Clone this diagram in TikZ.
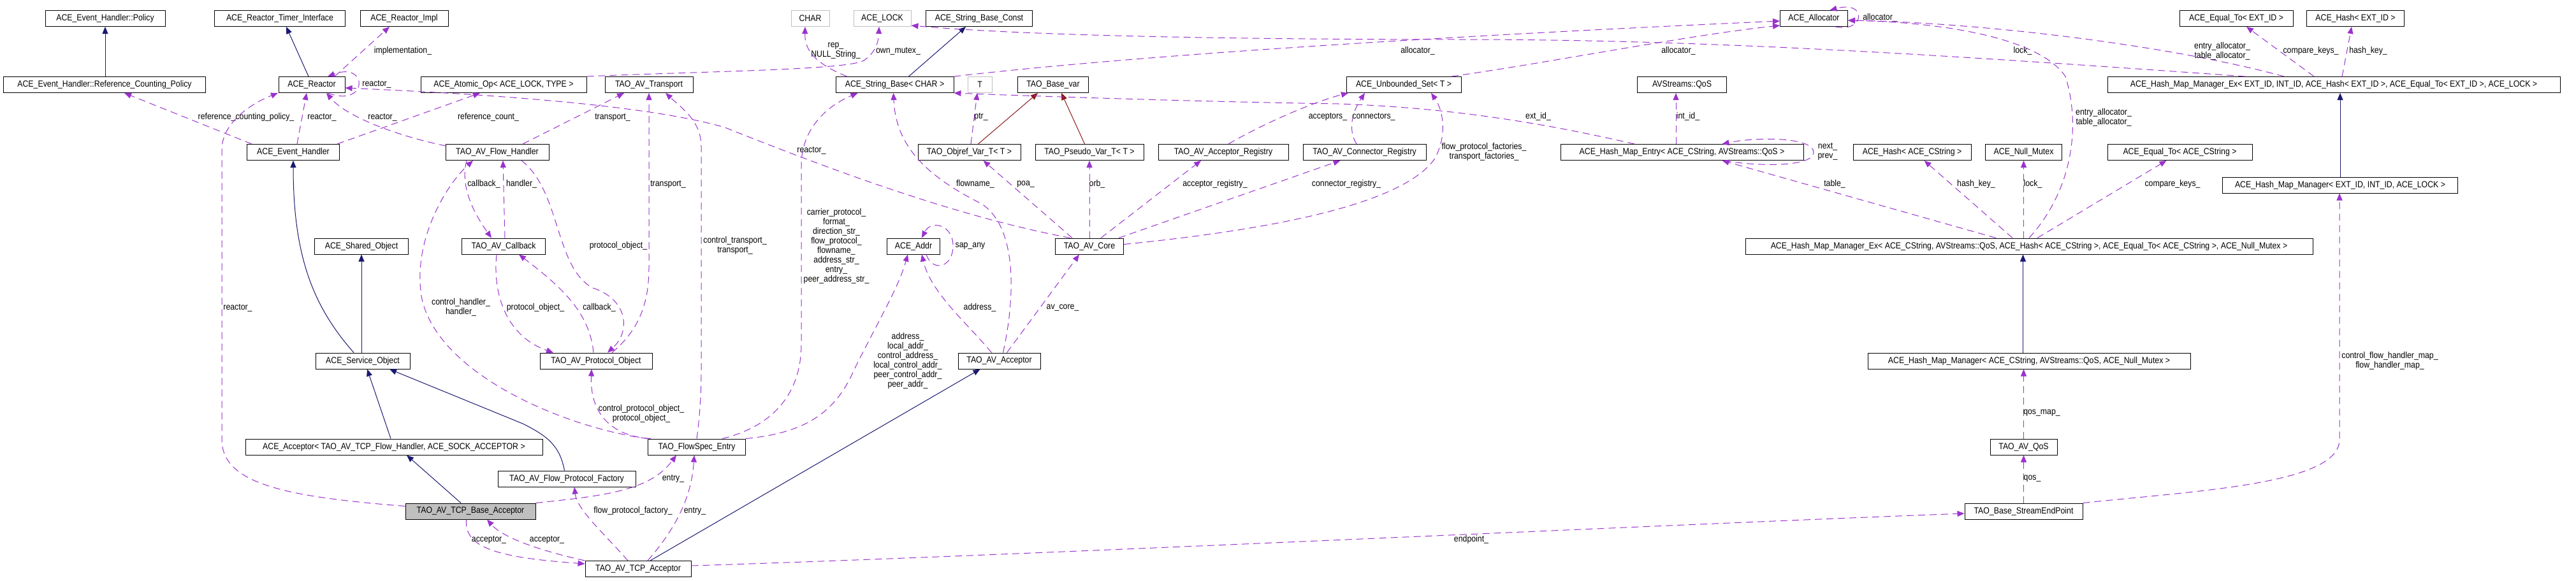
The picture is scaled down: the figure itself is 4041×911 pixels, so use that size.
\documentclass[tikz,border=0pt]{standalone}
\usepackage{fontspec}
\setmainfont{Liberation Sans}[FakeStretch=0.88]
\usepackage{tikz}
\usetikzlibrary{arrows.meta}
\definecolor{inhblue}{HTML}{191970}
\definecolor{usepurple}{HTML}{9A32CD}
\definecolor{tmplred}{HTML}{8B1A1A}
\definecolor{undocgray}{HTML}{BFBFBF}
\newcommand{\dxfont}{\fontsize{14}{15}\selectfont}
\tikzstyle{cls} = [draw=black, line width=1pt, rectangle, minimum height=25pt, inner sep=0pt, font=\dxfont]
\tikzstyle{undoc} = [cls, draw=undocgray]
\tikzstyle{cur} = [cls, fill=undocgray]
\tikzstyle{lbl} = [inner sep=0pt, align=center, font=\dxfont]
\tikzstyle{inherit} = [draw=inhblue, line width=1pt, -{Triangle[length=11pt,width=9pt]}]
\tikzstyle{tmpl} = [draw=tmplred, line width=1pt, -{Triangle[length=11pt,width=9pt]}]
\tikzstyle{member} = [draw=usepurple, line width=1pt, dash pattern=on 11pt off 7pt, -{Triangle[length=11pt,width=9pt]}]

\begin{document}
\begin{tikzpicture}[x=1pt, y=-1pt]
        \useasboundingbox (0,0) rectangle (4041,911);
        \fill[white] (0,0) rectangle (4041,911);

        \node[cls, minimum width=188pt] (policy) at (165,29) {ACE\_Event\_Handler::Policy};
        \node[cls, minimum width=205pt] (timerif) at (439,29) {ACE\_Reactor\_Timer\_Interface};
        \node[cls, minimum width=138pt] (reactorimpl) at (634,29) {ACE\_Reactor\_Impl};
        \node[undoc, minimum width=60pt] (char) at (1271,29) {CHAR};
        \node[undoc, minimum width=90pt] (acelock) at (1384,29) {ACE\_LOCK};
        \node[cls, minimum width=167pt] (strconst) at (1536,29) {ACE\_String\_Base\_Const};
        \node[cls, minimum width=106pt] (allocator) at (2845.5,29) {ACE\_Allocator};
        \node[cls, minimum width=178pt] (eqext) at (3508,29) {ACE\_Equal\_To< EXT\_ID >};
        \node[cls, minimum width=153pt] (hashext) at (3695,29) {ACE\_Hash< EXT\_ID >};

        \node[cls, minimum width=317pt] (refpolicy) at (164,133) {ACE\_Event\_Handler::Reference\_Counting\_Policy};
        \node[cls, minimum width=104pt] (reactor) at (489,133) {ACE\_Reactor};
        \node[cls, minimum width=260pt] (atomicop) at (790,133) {ACE\_Atomic\_Op< ACE\_LOCK, TYPE >};
        \node[cls, minimum width=138pt] (transport) at (1018,133) {TAO\_AV\_Transport};
        \node[cls, minimum width=185pt] (strbase) at (1403.5,133) {ACE\_String\_Base< CHAR >};
        \node[undoc, minimum width=38pt] (tparam) at (1537,133) {T};
        \node[cls, minimum width=111pt] (basevar) at (1652,133) {TAO\_Base\_var};
        \node[cls, minimum width=180pt] (uset) at (2202,133) {ACE\_Unbounded\_Set< T >};
        \node[cls, minimum width=140pt] (qosid) at (2638.5,133) {AVStreams::QoS};
        \node[cls, minimum width=710pt] (hmmexext) at (3661,133) {ACE\_Hash\_Map\_Manager\_Ex< EXT\_ID, INT\_ID, ACE\_Hash< EXT\_ID >, ACE\_Equal\_To< EXT\_ID >, ACE\_LOCK >};

        \node[cls, minimum width=145pt] (evhandler) at (460,239) {ACE\_Event\_Handler};
        \node[cls, minimum width=162pt] (flowhandler) at (780,239) {TAO\_AV\_Flow\_Handler};
        \node[cls, minimum width=161pt] (objref) at (1520.5,239) {TAO\_Objref\_Var\_T< T >};
        \node[cls, minimum width=170pt] (pseudo) at (1709,239) {TAO\_Pseudo\_Var\_T< T >};
        \node[cls, minimum width=204pt] (accreg) at (1919,239) {TAO\_AV\_Acceptor\_Registry};
        \node[cls, minimum width=193pt] (conreg) at (2140.5,239) {TAO\_AV\_Connector\_Registry};
        \node[cls, minimum width=381pt] (hmentry) at (2638.5,239) {ACE\_Hash\_Map\_Entry< ACE\_CString, AVStreams::QoS >};
        \node[cls, minimum width=185pt] (hashcs) at (2999.5,239) {ACE\_Hash< ACE\_CString >};
        \node[cls, minimum width=120pt] (nullmutex) at (3174.5,239) {ACE\_Null\_Mutex};
        \node[cls, minimum width=227pt] (eqcs) at (3419.5,239) {ACE\_Equal\_To< ACE\_CString >};
        \node[cls, minimum width=369pt] (hmmext) at (3671,290.5) {ACE\_Hash\_Map\_Manager< EXT\_ID, INT\_ID, ACE\_LOCK >};

        \node[cls, minimum width=147pt] (sharedobj) at (567,386.5) {ACE\_Shared\_Object};
        \node[cls, minimum width=131pt] (callback) at (790,386.5) {TAO\_AV\_Callback};
        \node[cls, minimum width=83pt] (aceaddr) at (1433,386.5) {ACE\_Addr};
        \node[cls, minimum width=107pt] (avcore) at (1709,386.5) {TAO\_AV\_Core};
        \node[cls, minimum width=890pt] (hmmexcs) at (3183,386.5) {ACE\_Hash\_Map\_Manager\_Ex< ACE\_CString, AVStreams::QoS, ACE\_Hash< ACE\_CString >, ACE\_Equal\_To< ACE\_CString >, ACE\_Null\_Mutex >};

        \node[cls, minimum width=148pt] (serviceobj) at (569,566.5) {ACE\_Service\_Object};
        \node[cls, minimum width=176pt] (protoobj) at (935,566.5) {TAO\_AV\_Protocol\_Object};
        \node[cls, minimum width=129pt] (avacceptor) at (1567.5,566.5) {TAO\_AV\_Acceptor};
        \node[cls, minimum width=506pt] (hmmcs) at (3183,566.5) {ACE\_Hash\_Map\_Manager< ACE\_CString, AVStreams::QoS, ACE\_Null\_Mutex >};

        \node[cls, minimum width=466pt] (aceacceptor) at (618,701.5) {ACE\_Acceptor< TAO\_AV\_TCP\_Flow\_Handler, ACE\_SOCK\_ACCEPTOR >};
        \node[cls, minimum width=153pt] (flowspec) at (1093,701.5) {TAO\_FlowSpec\_Entry};
        \node[cls, minimum width=105pt] (avqos) at (3174.5,701.5) {TAO\_AV\_QoS};
        \node[cls, minimum width=216pt] (factory) at (889,751.5) {TAO\_AV\_Flow\_Protocol\_Factory};
        \node[cur, minimum width=204pt] (baseacc) at (738,802.5) {TAO\_AV\_TCP\_Base\_Acceptor};
        \node[cls, minimum width=185pt] (streamep) at (3174.5,802.5) {TAO\_Base\_StreamEndPoint};
        \node[cls, minimum width=166pt] (tcpacc) at (1001,893) {TAO\_AV\_TCP\_Acceptor};

        \draw[inherit] ([xshift=1pt]refpolicy.north) -- (policy.south);
        \draw[inherit] ([xshift=-5pt]reactor.north) -- ([xshift=10pt]timerif.south);
        \draw[inherit] ([xshift=-14pt]serviceobj.north) .. controls (490,480) and (460,400) .. (evhandler.south);
        \draw[inherit] ([xshift=-2pt]serviceobj.north) -- (sharedobj.south);
        \draw[inherit] ([xshift=-5pt]aceacceptor.north) -- ([xshift=7pt]serviceobj.south);
        \draw[inherit] ([xshift=-3.5pt]factory.north) .. controls (878,700) and (860,685) .. (820,665) -- ([xshift=42pt]serviceobj.south);
        \draw[inherit] ([xshift=-15pt]baseacc.north) -- ([xshift=20pt]aceacceptor.south);
        \draw[inherit] ([xshift=19pt]tcpacc.north) -- ([xshift=-30pt]avacceptor.south);
        \draw[inherit] ([xshift=22pt]strbase.north) -- ([xshift=-21pt]strconst.south);
        \draw[inherit] (hmmext.north) -- (hmmext.north |- hmmexext.south);
        \draw[inherit] ([xshift=-9.5pt]hmmcs.north) -- ([xshift=-9.5pt]hmmexcs.south);
        \draw[tmpl] ([xshift=14pt]objref.north) -- ([xshift=-24pt]basevar.south);
        \draw[tmpl] ([xshift=-7.5pt]pseudo.north) -- ([xshift=13pt]basevar.south);

        \draw[member] ([xshift=36pt]reactor.north) -- ([xshift=-23pt]reactorimpl.south);
        \node[lbl] (limpl) at (632,80) {implementation\_};
        \draw[member] ([xshift=25pt]reactor.south) .. controls (578,170) and (578,96) .. ([xshift=25pt]reactor.north);
        \node[lbl] (lreactself) at (591,132) {reactor\_};
        \draw[member] ([xshift=-65pt]evhandler.north) -- ([xshift=31pt]refpolicy.south);
        \node[lbl] (lrcp) at (386,184) {reference\_counting\_policy\_};
        \draw[member] ([xshift=6pt]evhandler.north) -- ([xshift=-8pt]reactor.south);
        \node[lbl] (lreacteh) at (505,184) {reactor\_};
        \draw[member] ([yshift=8pt]baseacc.west) .. controls (450,780) and (348,760) .. (348,690) -- (348,235) .. controls (348,190) and (400,160) .. ([xshift=-53pt]reactor.south);
        \node[lbl] (lreactba) at (373,483) {reactor\_};
        \draw[member] ([xshift=69pt]evhandler.north) -- ([xshift=-37pt]atomicop.south);
        \node[lbl] (lrefcnt) at (766,184) {reference\_count\_};
        \draw[member] ([xshift=1pt,yshift=-3pt]flowhandler.north west) .. controls (630,215) and (545,185) .. ([xshift=23pt]reactor.south);
        \node[lbl] (lreactfh) at (600,184) {reactor\_};
        \draw[member] ([xshift=40pt]flowhandler.north) -- ([xshift=-39pt]transport.south);
        \node[lbl] (ltransfh) at (961,184) {transport\_};
        \draw[member] ([xshift=-48pt]flowhandler.south) .. controls (722,290) and (740,330) .. ([xshift=-19pt]callback.north);
        \node[lbl] (lcbfh) at (759,289) {callback\_};
        \draw[member] ([xshift=2pt]callback.north) -- ([xshift=9pt]flowhandler.south);
        \node[lbl] (lhandcb) at (818,289) {handler\_};
        \draw[member] (flowspec.north west) .. controls (890,672) and (690,590) .. (662,470) .. controls (645,380) and (700,290) .. ([xshift=-38pt]flowhandler.south);
        \node[lbl] (lhandfs) at (723,482) {control\_handler\_\\handler\_};
        \draw[member] ([xshift=38pt]flowhandler.south) .. controls (880,300) and (870,420) .. (930,452) .. controls (985,470) and (990,520) .. ([xshift=18pt]protoobj.north);
        \node[lbl] (lprotofh) at (970,386) {protocol\_object\_};
        \draw[member] ([xshift=-11pt]callback.south) .. controls (772,470) and (800,530) .. ([xshift=-67pt]protoobj.north);
        \node[lbl] (lprotocb) at (840,483) {protocol\_object\_};
        \draw[member] ([xshift=-4pt]protoobj.north) .. controls (925,490) and (880,450) .. ([xshift=24pt]callback.south);
        \node[lbl] (lcbpo) at (940,483) {callback\_};
        \draw[member] ([xshift=25pt]protoobj.north) .. controls (1000,520) and (1018,480) .. (1018,420) -- (transport.south);
        \node[lbl] (ltranspo) at (1048,289) {transport\_};
        \draw[member] (flowspec.north) .. controls (1098,650) and (1100,620) .. (1100,580) -- (1100,230) .. controls (1100,190) and (1070,170) .. ([xshift=26pt]transport.south);
        \node[lbl] (ltransfs) at (1153,385) {control\_transport\_\\transport\_};
        \draw[member] ([xshift=5pt]flowspec.north west) .. controls (960,685) and (925,650) .. ([xshift=-7pt]protoobj.south);
        \node[lbl] (lprotofs) at (1006,649) {control\_protocol\_object\_\\protocol\_object\_};
        \draw[member] ([xshift=40pt]flowspec.north) .. controls (1210,670) and (1257,620) .. (1257,540) -- (1257,260) .. controls (1257,200) and (1300,165) .. ([xshift=-58pt]strbase.south);
        \node[lbl] (lstrfs) at (1312,386) {carrier\_protocol\_\\format\_\\direction\_str\_\\flow\_protocol\_\\flowname\_\\address\_str\_\\entry\_\\peer\_address\_str\_};
        \draw[member] (flowspec.north east) .. controls (1260,680) and (1310,650) .. (1340,580) .. controls (1380,500) and (1410,450) .. ([xshift=-9pt]aceaddr.south);
        \node[lbl] (laddrfs) at (1424,566) {address\_\\local\_addr\_\\control\_address\_\\local\_control\_addr\_\\peer\_control\_addr\_\\peer\_addr\_};
        \draw[member] ([xshift=-12pt]avacceptor.north) .. controls (1520,510) and (1460,460) .. ([xshift=13pt]aceaddr.south);
        \node[lbl] (laddraa) at (1537,483) {address\_};
        \draw[member] ([xshift=20pt]aceaddr.south) .. controls (1463,428) and (1495,420) .. (1495,386) .. controls (1495,352) and (1460,345) .. ([xshift=13pt]aceaddr.north);
        \node[lbl] (lsap) at (1522,386) {sap\_any};
        \draw[member] ([xshift=12pt]avacceptor.north) -- ([xshift=-16pt]avcore.south);
        \node[lbl] (lcore) at (1667,483) {av\_core\_};
        \draw[member] ([xshift=6pt]avacceptor.north) .. controls (1590,480) and (1600,360) .. (1540,320) .. controls (1440,270) and (1405,220) .. ([xshift=-2pt]strbase.south);
        \node[lbl] (lflowname) at (1530,289) {flowname\_};
        \draw[member] ([xshift=-27pt]avcore.north) -- ([xshift=22pt]objref.south);
        \node[lbl] (lpoa) at (1609,289) {poa\_};
        \draw[member] (avcore.north) -- (pseudo.south);
        \node[lbl] (lorb) at (1721,289) {orb\_};
        \draw[member] ([xshift=18pt]avcore.north) -- ([xshift=-35pt]accreg.south);
        \node[lbl] (laccreg) at (1906,289) {acceptor\_registry\_};
        \draw[member] ([xshift=-8pt]avcore.north east) -- ([xshift=-38pt]conreg.south);
        \node[lbl] (lconreg) at (2112,289) {connector\_registry\_};
        \draw[member] ([yshift=3pt]avcore.east) .. controls (2000,360) and (2200,320) .. (2250,250) .. controls (2270,215) and (2265,175) .. ([xshift=43pt]uset.south);
        \node[lbl] (lfactories) at (2328,238) {flow\_protocol\_factories\_\\transport\_factories\_};
        \draw[member] ([xshift=-30pt]avcore.north) .. controls (1500,340) and (1300,265) .. (1137,200) .. controls (1000,160) and (700,145) .. ([yshift=-5pt]reactor.east);
        \node[lbl] (lreactcore) at (1273,236) {reactor\_};
        \draw[member] ([xshift=-75pt]strbase.north) .. controls (1280,100) and (1262,80) .. ([xshift=-8pt]char.south);
        \node[lbl] (lrep) at (1311,80) {rep\_\\NULL\_String\_};
        \draw[member] (atomicop.north east) .. controls (1100,112) and (1330,110) .. (1355,95) .. controls (1370,85) and (1378,70) .. ([xshift=-5pt]acelock.south);
        \node[lbl] (lmutex) at (1409,80) {own\_mutex\_};
        \draw[member] ([xshift=-139pt]hmmexext.north) .. controls (3100,90) and (2700,62) .. (2300,62) .. controls (1900,62) and (1600,55) .. ([yshift=2pt]acelock.south east);
        \node[lbl] (llockext) at (3173,80) {lock\_};
        \draw[member] (strbase.north east) .. controls (1800,85) and (2300,55) .. ([yshift=-4pt]allocator.west);
        \node[lbl] (lallocstr) at (2224,80) {allocator\_};
        \draw[member] ([xshift=75pt]uset.north) .. controls (2450,95) and (2650,55) .. ([yshift=-11pt]allocator.west);
        \node[lbl] (lallocset) at (2633,80) {allocator\_};
        \draw[member] ([xshift=34pt]allocator.south) .. controls (2925,52) and (2930,0) .. ([xshift=25pt]allocator.north);
        \node[lbl] (lallocself) at (2949,28) {allocator\_};
        \draw[member] ([xshift=-78pt]hmmexext.north) .. controls (3400,70) and (3100,35) .. ([yshift=-3pt]allocator.east);
        \node[lbl] (lentryext) at (3486,80) {entry\_allocator\_\\table\_allocator\_};
        \draw[member] (hmmexcs.north) .. controls (3250,300) and (3265,200) .. (3240,120) .. controls (3200,60) and (3050,35) .. ([yshift=-3pt]allocator.east);
        \node[lbl] (lentrycs) at (3300,184) {entry\_allocator\_\\table\_allocator\_};
        \draw[member] ([xshift=-31pt]hmmexext.north) -- ([xshift=16pt]eqext.south);
        \node[lbl] (lcmpext) at (3625,80) {compare\_keys\_};
        \draw[member] ([xshift=13pt]hmmexext.north) -- ([xshift=-6pt]hashext.south);
        \node[lbl] (lhashext) at (3715,80) {hash\_key\_};
        \draw[member] (streamep.north east) .. controls (3450,770) and (3670,760) .. (3670,690) -- ([xshift=-1pt]hmmext.south);
        \node[lbl] (lfhmap) at (3749,566) {control\_flow\_handler\_map\_\\flow\_handler\_map\_};
        \draw[member] (avqos.north) -- ([xshift=-8.5pt]hmmcs.south);
        \node[lbl] (lqosmap) at (3203,648) {qos\_map\_};
        \draw[member] (streamep.north) -- (avqos.south);
        \node[lbl] (lqos) at (3188,751) {qos\_};
        \draw[member] ([xshift=-52pt]hmmexcs.north) -- ([xshift=63pt]hmentry.south);
        \node[lbl] (ltable) at (2878,289) {table\_};
        \draw[member] ([xshift=-26pt]hmmexcs.north) -- ([xshift=19pt]hashcs.south);
        \node[lbl] (lhashcs) at (3100,289) {hash\_key\_};
        \draw[member] ([xshift=-8.5pt]hmmexcs.north) -- (nullmutex.south);
        \node[lbl] (llockcs) at (3189,289) {lock\_};
        \draw[member] ([xshift=13pt]hmmexcs.north) -- ([xshift=-21pt]eqcs.south);
        \node[lbl] (lcmpcs) at (3408,289) {compare\_keys\_};
        \draw[member] ([xshift=-74.5pt]hmentry.north) .. controls (2450,200) and (2300,170) .. (2100,163) .. controls (1900,160) and (1650,152) .. (strbase.south east);
        \node[lbl] (lext) at (2413,183) {ext\_id\_};
        \draw[member] ([xshift=-9.5pt]hmentry.north) -- ([xshift=-9.5pt]qosid.south);
        \node[lbl] (lint) at (2648,183) {int\_id\_};
        \draw[member] ([xshift=66pt]hmentry.south) .. controls (2760,262) and (2845,262) .. (2845,239) .. controls (2845,216) and (2760,214) .. ([xshift=63pt]hmentry.north);
        \node[lbl] (lnext) at (2867,238) {next\_\\prev\_};
        \draw[member] ([xshift=2.5pt]objref.north) -- ([xshift=-4pt]tparam.south);
        \node[lbl] (lptr) at (1539,183) {ptr\_};
        \draw[member] ([xshift=8pt]accreg.north) .. controls (1980,195) and (2060,160) .. ([xshift=-87pt]uset.south);
        \node[lbl] (lacceptors) at (2083,183) {acceptors\_};
        \draw[member] ([xshift=-12.5pt]conreg.north) .. controls (2112,200) and (2125,170) .. ([xshift=-61pt]uset.south);
        \node[lbl] (lconnectors) at (2155,183) {connectors\_};
        \draw[member] ([xshift=-16pt]tcpacc.north) .. controls (950,840) and (905,800) .. ([xshift=12pt]factory.south);
        \node[lbl] (lfpf) at (993,802) {flow\_protocol\_factory\_};
        \draw[member] ([xshift=15pt]tcpacc.north) .. controls (1060,830) and (1085,780) .. ([xshift=-4pt]flowspec.south);
        \node[lbl] (lentrytcp) at (1090,802) {entry\_};
        \draw[member] (baseacc.north east) .. controls (950,778) and (1020,770) .. ([xshift=-32pt]flowspec.south);
        \node[lbl] (lentryba) at (1056,751) {entry\_};
        \draw[member] ([xshift=-6.5pt]baseacc.south) .. controls (728,860) and (780,875) .. ([yshift=8pt]tcpacc.west);
        \node[lbl] (laccba) at (767,847) {acceptor\_};
        \draw[member] (tcpacc.north west) .. controls (850,865) and (790,845) .. ([xshift=26pt]baseacc.south);
        \node[lbl] (lacctcp) at (858,847) {acceptor\_};
        \draw[member] ([yshift=5pt]tcpacc.east) .. controls (1600,872) and (2600,824) .. ([yshift=-3.5pt]streamep.west);
        \node[lbl] (lendpoint) at (2308,847) {endpoint\_};
\end{tikzpicture}
\end{document}
